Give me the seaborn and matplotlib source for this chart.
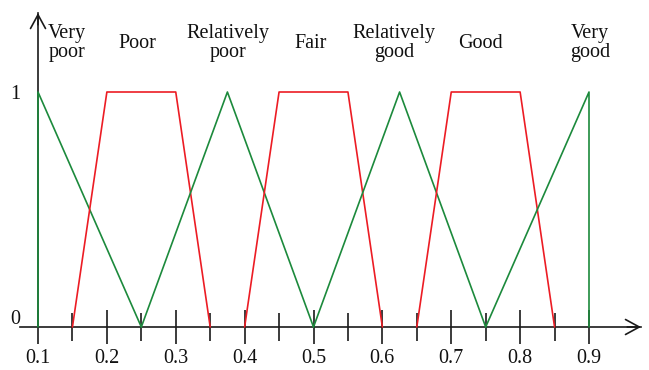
import numpy as np
import pandas as pd
import matplotlib
matplotlib.use("Agg")
import matplotlib.pyplot as plt
import matplotlib.transforms as mtransforms
import seaborn as sns

# ---- data -------------------------------------------------------------
names = ["Very poor", "Poor", "Relatively poor", "Fair",
         "Relatively good", "Good", "Very good"]
label_text = ["Very\npoor", "Poor", "Relatively\npoor", "Fair",
              "Relatively\ngood", "Good", "Very\ngood"]
label_x = [0.142, 0.245, 0.376, 0.496, 0.617, 0.743, 0.9015]

very_poor_x = [0.1, 0.1, 0.25]
very_poor_y = [0, 1, 0]
poor_x = [0.15, 0.2, 0.3, 0.35]
poor_y = [0, 1, 1, 0]
rel_poor_x = [0.25, 0.375, 0.5]
rel_poor_y = [0, 1, 0]
fair_x = [0.4, 0.45, 0.55, 0.6]
fair_y = [0, 1, 1, 0]
rel_good_x = [0.5, 0.625, 0.75]
rel_good_y = [0, 1, 0]
good_x = [0.65, 0.7, 0.8, 0.85]
good_y = [0, 1, 1, 0]
very_good_x = [0.75, 0.9, 0.9]
very_good_y = [0, 1, 0]

major_ticks = [0.1, 0.2, 0.3, 0.4, 0.5, 0.6, 0.7, 0.8, 0.9]
major_labels = ["0.1", "0.2", "0.3", "0.4", "0.5", "0.6", "0.7", "0.8", "0.9"]
minor_ticks = [0.15, 0.25, 0.35, 0.45, 0.55, 0.65, 0.75, 0.85]
y_ticks = [0, 1]
y_labels = ["0", "1"]

series = [
    (very_poor_x, very_poor_y, "tri"),
    (poor_x, poor_y, "trap"),
    (rel_poor_x, rel_poor_y, "tri"),
    (fair_x, fair_y, "trap"),
    (rel_good_x, rel_good_y, "tri"),
    (good_x, good_y, "trap"),
    (very_good_x, very_good_y, "tri"),
]

# ---- style ------------------------------------------------------------
sns.set_theme(style="white")
plt.rcParams["font.family"] = ["Liberation Serif", "DejaVu Serif"]

GREEN = "#1c8a3c"
RED = "#ec1c24"
AXC = "#1a1a1a"
FS = 14.5

W, H = 649, 370
fig = plt.figure(figsize=(W / 100, H / 100), dpi=100)
ax = fig.add_axes([0, 0, 1, 1])
fig.patch.set_facecolor("white")
ax.set_facecolor("white")

# pixel geometry of the reference
px_x01, px_x09 = 38.0, 589.0
px_y0, px_y1 = 327.0, 92.0
sx = (px_x09 - px_x01) / 0.8
sy = (px_y0 - px_y1) / 1.0
ax.set_xlim(0.1 - px_x01 / sx, 0.1 + (W - px_x01) / sx)
ax.set_ylim(-(H - px_y0) / sy, px_y0 / sy)

for i, (xs, ys, kind) in enumerate(series):
    df = pd.DataFrame({"x": xs, "y": ys})
    sns.lineplot(data=df, x="x", y="y", sort=False, estimator=None,
                 color=GREEN if kind == "tri" else RED, lw=1.2, ax=ax,
                 zorder=5)

# labels above curves
label_y = (px_y0 - 43) / sy
for t, x in zip(label_text, label_x):
    ax.text(x, label_y, t, ha="center", va="center", fontsize=FS,
            color="#111111", linespacing=0.98)

# axes (spines at data origin)
for s in ["top", "right"]:
    ax.spines[s].set_visible(False)
ax.spines["bottom"].set_position(("data", 0))
ax.spines["left"].set_position(("data", 0.1))
x_start = 0.1 - (px_x01 - 20) / sx
x_end = 0.1 + (641 - px_x01) / sx
y_end = (px_y0 - 13) / sy
ax.spines["bottom"].set_bounds(x_start, x_end)
ax.spines["left"].set_bounds(0, y_end)
for s in ["bottom", "left"]:
    ax.spines[s].set_color(AXC)
    ax.spines[s].set_linewidth(1.2)
    ax.spines[s].set_zorder(3)

# arrow heads
ax.annotate("", xy=(x_end, 0), xytext=(x_end - 0.02, 0),
            arrowprops=dict(arrowstyle="->,head_length=0.55,head_width=0.3",
                            color=AXC, lw=1.2, mutation_scale=18,
                            shrinkA=0, shrinkB=0), zorder=3)
ax.annotate("", xy=(0.1, y_end), xytext=(0.1, y_end - 0.05),
            arrowprops=dict(arrowstyle="->,head_length=0.55,head_width=0.3",
                            color=AXC, lw=1.2, mutation_scale=18,
                            shrinkA=0, shrinkB=0), zorder=3)

ax.set_xticks(major_ticks)
ax.set_xticklabels(major_labels)
ax.set_xticks(minor_ticks, minor=True)
ax.tick_params(axis="x", which="both", bottom=True, top=False)
ax.tick_params(axis="x", which="major", direction="inout", length=25,
               width=1.2, color=AXC, labelsize=FS, pad=3, labelcolor="#111111")
ax.tick_params(axis="x", which="minor", direction="inout", length=20,
               width=1.2, color=AXC)
ax.set_yticks(y_ticks)
ax.set_yticklabels(y_labels)
ax.tick_params(axis="y", which="major", left=True, length=0, labelsize=FS,
               pad=13, labelcolor="#111111")
# "0" sits a little above the axis line
lab0 = ax.get_yticklabels()[0]
lab0.set_transform(lab0.get_transform() +
                   mtransforms.ScaledTranslation(0, 10 / 100, fig.dpi_scale_trans))
ax.set_xlabel("")
ax.set_ylabel("")

fig.savefig("out.png", dpi=100, facecolor="white")
